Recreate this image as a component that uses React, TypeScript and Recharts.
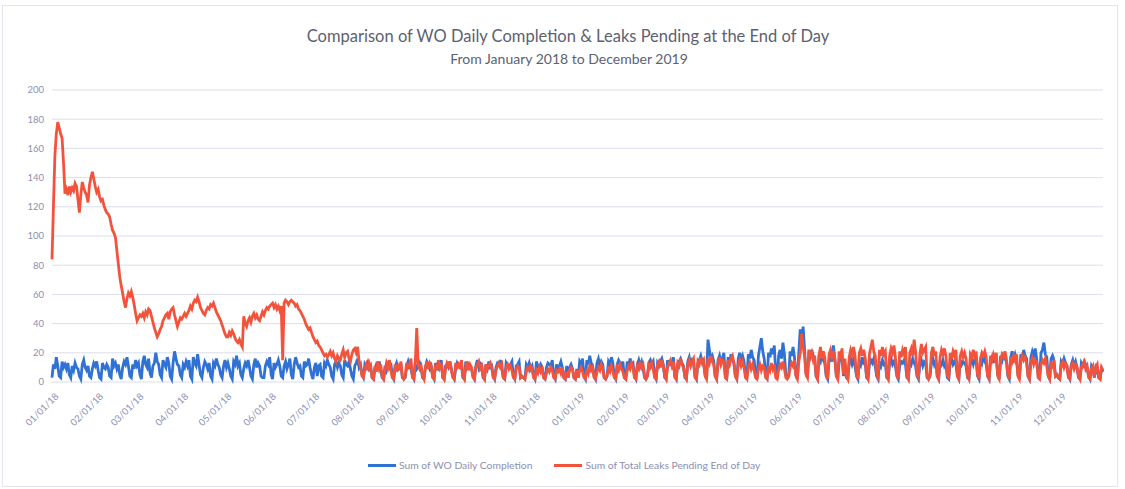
import React from "react";
import { CartesianGrid, Line, LineChart, XAxis, YAxis } from "recharts";

// daily values, one row per week (Mon..Sun for 2018)
const completion2018 = [
  3, 12, 9, 17, 11, 4, 3,
  14, 10, 12, 9, 13, 5, 3,
  11, 8, 13, 10, 9, 4, 2,
  12, 15, 10, 8, 11, 4, 3,
  9, 13, 11, 14, 8, 3, 2,
  13, 10, 9, 12, 10, 4, 3,
  16, 11, 13, 9, 12, 5, 2,
  10, 14, 12, 17, 11, 4, 3,
  12, 9, 15, 11, 13, 5, 2,
  14, 18, 12, 10, 16, 6, 3,
  11, 13, 20, 14, 12, 5, 3,
  15, 12, 10, 17, 13, 4, 2,
  13, 21, 16, 12, 11, 5, 3,
  12, 10, 14, 11, 15, 4, 2,
  17, 13, 11, 19, 12, 5, 3,
  10, 14, 12, 9, 13, 4, 2,
  13, 11, 16, 12, 10, 5, 3,
  11, 15, 10, 13, 9, 4, 2,
  14, 12, 18, 11, 13, 5, 3,
  9, 13, 11, 15, 10, 4, 2,
  12, 16, 10, 13, 11, 4, 3,
  3, 11, 14, 12, 17, 5, 2,
  13, 10, 12, 15, 11, 4, 3,
  11, 14, 9, 12, 16, 5, 2,
  12, 17, 13, 10, 11, 4, 3,
  14, 11, 12, 16, 10, 5, 2,
  10, 13, 4, 11, 12, 4, 3,
  13, 11, 15, 12, 10, 4, 2,
  12, 14, 10, 13, 11, 5, 3,
  15, 12, 11, 14, 9, 4, 2,
  11, 13, 16, 10, 12, 5, 3,
  12, 10, 13, 9, 11, 3, 2,
  9, 12, 10, 14, 8, 3, 2,
  11, 8, 12, 10, 13, 4, 2,
  10, 13, 9, 11, 12, 3, 2,
  3, 11, 14, 10, 9, 4, 2,
  12, 9, 11, 13, 10, 3, 2,
  10, 14, 12, 9, 11, 4, 2,
  13, 10, 9, 12, 15, 3, 2,
  11, 12, 10, 14, 9, 4, 2,
  9, 13, 11, 10, 12, 3, 2,
  14, 10, 12, 11, 9, 4, 2,
  11, 15, 10, 13, 12, 3, 2,
  12, 9, 14, 10, 11, 4, 2,
  10, 13, 12, 15, 9, 3, 2,
  13, 11, 10, 12, 14, 4, 2,
  11, 12, 14, 3, 4, 3, 2,
  12, 10, 13, 9, 11, 4, 2,
  14, 11, 9, 12, 10, 3, 2,
  10, 13, 12, 11, 15, 4, 2,
  12, 9, 11, 14, 10, 3, 2,
  11, 3, 10, 12, 9, 3, 2,
  9,
];

// 2019 starts on a Tuesday: first row Tue..Sun, last row Mon..Tue
const completion2019 = [
  3, 14, 12, 16, 4, 2,
  15, 12, 18, 13, 11, 4, 2,
  13, 16, 11, 14, 12, 3, 2,
  4, 14, 12, 17, 13, 4, 2,
  12, 15, 13, 11, 14, 3, 2,
  14, 11, 16, 12, 13, 4, 2,
  12, 15, 11, 14, 10, 3, 2,
  4, 13, 15, 12, 14, 4, 2,
  13, 11, 14, 16, 12, 3, 2,
  15, 12, 13, 11, 17, 4, 2,
  12, 14, 16, 13, 11, 3, 2,
  14, 17, 12, 15, 13, 4, 2,
  13, 15, 18, 14, 12, 5, 2,
  29, 22, 16, 18, 14, 4, 2,
  15, 18, 13, 16, 20, 5, 2,
  17, 14, 19, 15, 13, 4, 2,
  16, 20, 15, 18, 14, 5, 3,
  19, 16, 22, 17, 15, 5, 2,
  18, 24, 30, 21, 16, 5, 3,
  20, 17, 23, 19, 25, 6, 2,
  18, 22, 16, 27, 19, 5, 3,
  4, 21, 18, 24, 17, 5, 2,
  20, 36, 28, 38, 22, 6, 3,
  19, 17, 22, 18, 15, 4, 2,
  16, 14, 19, 15, 13, 4, 2,
  15, 18, 14, 25, 16, 5, 2,
  14, 17, 15, 4, 12, 3, 2,
  13, 16, 12, 15, 11, 4, 2,
  15, 12, 17, 13, 14, 3, 2,
  12, 15, 13, 16, 11, 4, 2,
  14, 11, 15, 12, 13, 3, 2,
  13, 16, 12, 14, 11, 4, 2,
  11, 14, 13, 15, 12, 3, 2,
  14, 12, 16, 13, 11, 4, 2,
  12, 15, 11, 14, 13, 3, 2,
  4, 13, 16, 12, 15, 4, 2,
  14, 12, 15, 11, 13, 3, 2,
  13, 16, 12, 14, 12, 4, 2,
  15, 12, 14, 13, 11, 3, 2,
  13, 15, 12, 16, 14, 4, 2,
  16, 13, 18, 14, 12, 4, 2,
  14, 17, 13, 19, 15, 5, 2,
  18, 15, 20, 16, 14, 4, 2,
  17, 21, 16, 19, 15, 5, 2,
  19, 16, 22, 18, 16, 4, 2,
  17, 21, 18, 23, 16, 5, 2,
  20, 22, 27, 19, 17, 4, 2,
  16, 18, 15, 4, 5, 3, 2,
  14, 12, 16, 13, 11, 4, 2,
  12, 15, 11, 14, 10, 3, 2,
  13, 11, 14, 12, 10, 4, 2,
  11, 9, 3, 10, 8, 3, 2,
  9, 7,
];

const pending2018 = [
  84, 120, 155, 170, 178, 174, 170,
  167, 150, 129, 132, 128, 134, 130,
  133, 131, 136, 134, 125, 116, 128,
  137, 133, 130, 128, 123, 135, 140,
  144, 139, 134, 130, 132, 127, 124,
  125, 121, 118, 116, 115, 113, 108,
  104, 102, 99, 90, 81, 72, 66,
  61, 55, 51, 57, 61, 59, 62,
  58, 53, 47, 42, 44, 46, 45,
  47, 44, 48, 46, 50, 49, 45,
  41, 37, 34, 31, 33, 36, 38,
  42, 44, 46, 47, 43, 48, 50,
  51, 46, 42, 38, 41, 44, 43,
  45, 47, 45, 47, 49, 52, 50,
  54, 56, 55, 58, 55, 51, 49,
  47, 46, 49, 51, 50, 53, 52,
  54, 51, 48, 46, 44, 42, 39,
  36, 33, 31, 31, 34, 32, 35,
  33, 30, 28, 27, 29, 26, 24,
  45, 40, 38, 42, 44, 41, 45,
  47, 44, 46, 43, 42, 45, 48,
  46, 49, 51, 50, 52, 53, 54,
  51, 53, 50, 52, 49, 52, 15,
  54, 56, 55, 53, 55, 56, 55,
  54, 52, 53, 50, 49, 47, 45,
  43, 40, 38, 36, 37, 34, 31,
  29, 27, 28, 25, 24, 22, 20,
  18, 19, 17, 19, 21, 18, 20,
  16, 14, 18, 16, 15, 19, 22,
  17, 20, 21, 16, 14, 19, 22,
  23, 20, 24, 14, 10, 4, 3,
  9, 12, 8, 13, 10, 3, 2,
  11, 7, 14, 9, 12, 4, 2,
  8, 13, 10, 15, 9, 3, 2,
  12, 9, 11, 8, 14, 4, 2,
  4, 13, 10, 12, 16, 3, 2,
  14, 37, 12, 9, 11, 4, 2,
  10, 14, 9, 13, 11, 3, 2,
  12, 8, 15, 10, 13, 4, 2,
  9, 13, 11, 14, 8, 3, 2,
  13, 10, 12, 9, 15, 4, 2,
  11, 14, 8, 12, 10, 3, 2,
  10, 12, 14, 9, 11, 4, 2,
  12, 9, 11, 13, 10, 3, 2,
  8, 11, 13, 10, 12, 3, 2,
  10, 12, 9, 11, 8, 3, 2,
  9, 11, 10, 3, 4, 3, 2,
  7, 10, 8, 11, 9, 3, 2,
  8, 6, 10, 7, 9, 3, 2,
  6, 9, 7, 10, 8, 3, 2,
  8, 7, 9, 6, 10, 3, 2,
  7, 3, 8, 10, 9, 3, 2,
  8,
];

const pending2019 = [
  3, 8, 10, 7, 3, 2,
  9, 6, 11, 8, 10, 3, 2,
  7, 10, 8, 12, 9, 3, 2,
  4, 9, 7, 11, 8, 3, 2,
  10, 8, 12, 9, 7, 3, 2,
  8, 11, 9, 13, 10, 3, 2,
  11, 9, 14, 10, 12, 4, 2,
  4, 12, 10, 13, 9, 3, 2,
  12, 14, 10, 15, 11, 4, 2,
  10, 13, 15, 11, 14, 3, 2,
  13, 11, 16, 12, 10, 4, 2,
  12, 15, 11, 14, 16, 3, 2,
  14, 12, 17, 13, 15, 4, 2,
  16, 13, 18, 14, 12, 4, 2,
  13, 17, 12, 15, 14, 3, 2,
  15, 12, 16, 18, 13, 4, 2,
  12, 15, 11, 14, 10, 3, 2,
  10, 13, 9, 12, 8, 3, 2,
  9, 12, 8, 11, 10, 3, 2,
  11, 8, 13, 9, 12, 3, 2,
  8, 12, 10, 14, 9, 3, 2,
  4, 10, 13, 11, 15, 4, 2,
  14, 20, 33, 24, 18, 5, 3,
  22, 17, 20, 15, 18, 4, 2,
  18, 24, 16, 21, 17, 5, 2,
  19, 22, 17, 20, 16, 4, 2,
  21, 18, 23, 5, 16, 4, 2,
  17, 22, 19, 24, 18, 5, 2,
  20, 23, 18, 22, 17, 4, 2,
  19, 24, 29, 21, 18, 5, 3,
  22, 18, 24, 19, 21, 4, 2,
  18, 23, 20, 25, 17, 5, 2,
  21, 17, 22, 19, 24, 4, 2,
  20, 23, 18, 29, 21, 5, 3,
  19, 26, 20, 22, 24, 4, 2,
  5, 20, 24, 18, 21, 4, 2,
  17, 22, 19, 23, 18, 5, 2,
  20, 16, 21, 18, 22, 4, 2,
  18, 21, 17, 20, 16, 4, 2,
  19, 17, 22, 18, 21, 5, 2,
  16, 20, 18, 21, 17, 4, 2,
  18, 15, 19, 16, 20, 4, 2,
  15, 19, 17, 21, 16, 5, 2,
  17, 14, 18, 15, 19, 4, 2,
  14, 18, 15, 17, 13, 4, 2,
  13, 16, 12, 15, 14, 3, 2,
  12, 15, 13, 16, 11, 4, 2,
  14, 11, 13, 4, 5, 3, 2,
  12, 14, 10, 13, 11, 3, 2,
  11, 13, 9, 12, 10, 4, 2,
  10, 12, 14, 9, 11, 3, 2,
  9, 11, 3, 10, 12, 3, 2,
  10, 8,
];

const yTicks = [0, 20, 40, 60, 80, 100, 120, 140, 160, 180, 200];

const monthLabels = [
  "01/01/18", "02/01/18", "03/01/18", "04/01/18", "05/01/18", "06/01/18",
  "07/01/18", "08/01/18", "09/01/18", "10/01/18", "11/01/18", "12/01/18",
  "01/01/19", "02/01/19", "03/01/19", "04/01/19", "05/01/19", "06/01/19",
  "07/01/19", "08/01/19", "09/01/19", "10/01/19", "11/01/19", "12/01/19",
];

const DAY_MS = 86400000;
const START = Date.UTC(2018, 0, 1);

const labelToDay = (label: string) => {
  const [mm, dd, yy] = label.split("/").map(Number);
  return Math.round((Date.UTC(2000 + yy, mm - 1, dd) - START) / DAY_MS);
};

const completion = [...completion2018, ...completion2019];
const pending = [...pending2018, ...pending2019];

const data = completion.map((c, i) => ({
  day: i,
  completion: c,
  pending: pending[i],
}));

const monthTicks = monthLabels.map(labelToDay);
const labelByDay = new Map(monthTicks.map((d, i) => [d, monthLabels[i]]));
const lastDay = data.length - 1;

const BLUE = "#2f72d3";
const RED = "#f4533b";
const TICK = "#8b8fb2";
const FONT = "Lato, 'Noto Sans', sans-serif";

const DateTick = (props: any) => {
  const { x, y, payload } = props;
  return (
    <text
      x={x}
      y={y}
      dy={10}
      textAnchor="end"
      fontSize={9.5}
      fill={TICK}
      fontFamily={FONT}
      transform={`rotate(-45, ${x}, ${y})`}
    >
      {labelByDay.get(payload.value)}
    </text>
  );
};

const LegendItem = ({ color, label }: { color: string; label: string }) => (
  <div style={{ display: "flex", alignItems: "center", gap: 3 }}>
    <div style={{ width: 28, height: 3, background: color }} />
    <span>{label}</span>
  </div>
);

export default function App() {
  return (
    <div
      style={{
        position: "absolute",
        left: 0,
        top: 0,
        width: 1125,
        height: 489,
        background: "#fff",
        fontFamily: FONT,
      }}
    >
      <div
        style={{
          position: "absolute",
          left: 2,
          top: 5,
          width: 1114,
          height: 480,
          border: "1px solid #e3e4ee",
        }}
      />
      <div
        style={{
          position: "absolute",
          left: 0,
          width: 1136,
          top: 26,
          textAlign: "center",
          fontSize: 16.5,
          color: "#5d5f72",
        }}
      >
        Comparison of WO Daily Completion &amp; Leaks Pending at the End of Day
      </div>
      <div
        style={{
          position: "absolute",
          left: 0,
          width: 1138,
          top: 50,
          textAlign: "center",
          fontSize: 14,
          color: "#5d5f72",
        }}
      >
        From January 2018 to December 2019
      </div>
      <LineChart
        width={1125}
        height={489}
        data={data}
        margin={{ top: 90, right: 22, bottom: 67, left: 0 }}
      >
        <CartesianGrid vertical={false} stroke="#dcdeec" />
        <XAxis
          type="number"
          dataKey="day"
          domain={[0, lastDay]}
          ticks={monthTicks}
          interval={0}
          tick={<DateTick />}
          axisLine={false}
          tickLine={false}
          height={40}
        />
        <YAxis
          domain={[0, 200]}
          ticks={yTicks}
          width={52}
          axisLine={false}
          tickLine={false}
          tick={{ fontSize: 9.5, fill: TICK, fontFamily: FONT }}
        />
        <Line
          type="linear"
          dataKey="completion"
          stroke={BLUE}
          strokeWidth={2.8}
          dot={false}
          isAnimationActive={false}
        />
        <Line
          type="linear"
          dataKey="pending"
          stroke={RED}
          strokeWidth={2.8}
          dot={false}
          isAnimationActive={false}
        />
      </LineChart>
      <div
        style={{
          position: "absolute",
          top: 459,
          left: 368,
          display: "flex",
          gap: 22,
          fontSize: 10.3,
          color: "#8b8fb2",
        }}
      >
        <LegendItem color={BLUE} label="Sum of WO Daily Completion" />
        <LegendItem color={RED} label="Sum of Total Leaks Pending End of Day" />
      </div>
    </div>
  );
}
